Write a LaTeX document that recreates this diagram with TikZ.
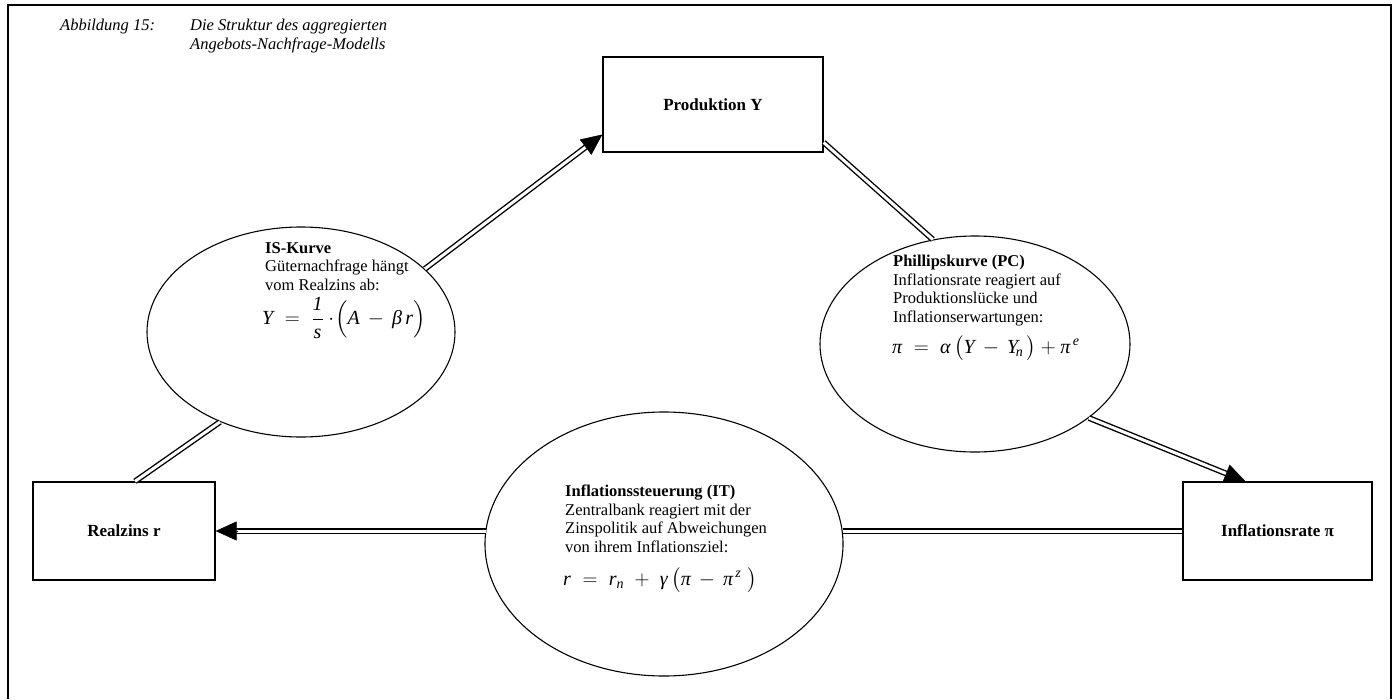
\documentclass[tikz,border=0pt]{standalone}
\usepackage{fontspec}
\setmainfont{Liberation Serif}
\usepackage{amsmath}
\usetikzlibrary{arrows.meta,shapes.geometric,calc}
\newcommand\mi[1]{\text{\itshape #1}}
\begin{document}
\begin{tikzpicture}[x=1pt,y=-1pt,
  font=\fontsize{16.5}{18.5}\selectfont,
  box/.style={draw, line width=1.3pt, inner sep=0pt, font=\fontsize{17}{19}\selectfont\bfseries},
  ell/.style={draw, ellipse, line width=1.1pt, inner sep=0pt},
  dbl/.style={double, double distance=3pt, line width=1.4pt},
  tipst/.style={-{Triangle[length=21pt,width=19pt]}, line width=0.5pt},
  txt/.style={anchor=north west, align=left, inner sep=0pt, font=\fontsize{16.5}{18.5}\selectfont},
  frm/.style={anchor=west, inner sep=0pt, font=\fontsize{20}{23}\selectfont},
  ttl/.style={inner sep=0pt, align=left, font=\itshape\fontsize{16.5}{19}\selectfont}]
\useasboundingbox (0,0) rectangle (1395,699);
% frame
\draw[line width=2.4pt] (8,699) -- (8,5) -- (1391,5) -- (1391,699);
% title
\node[ttl, anchor=north west] (t1) at (60,19) {Abbildung 15:};
\node[ttl, anchor=north west] (t2) at (190,19) {Die Struktur des aggregierten\\Angebots-Nachfrage-Modells};
% boxes
\node[box, minimum width=220pt, minimum height=95pt] (prod) at (713,104.5) {Produktion Y};
\node[box, minimum width=182pt, minimum height=98pt] (rz) at (124,531) {Realzins r};
\node[box, minimum width=189pt, minimum height=98pt] (ir) at (1277.5,531) {Inflationsrate π};
% ellipses
\node[ell, minimum width=308pt, minimum height=210pt] (is) at (301,332) {};
\node[ell, minimum width=310pt, minimum height=216pt] (pc) at (975,344) {};
\node[ell, minimum width=358pt, minimum height=264pt] (it) at (664,544) {};
% ellipse texts
\node[txt] (istxt) at (265,242) {\textbf{IS-Kurve}\\Güternachfrage hängt\\vom Realzins ab:};
\node[frm] (isf) at (262,318) {$\mi{Y} \;=\; \dfrac{\mi{1}}{\mi{s}}\cdot\!\Bigl(\mi{A} \,-\, \mi{β}\,\mi{r}\Bigr)$};
\node[txt] (pctxt) at (893,255) {\textbf{Phillipskurve (PC)}\\Inflationsrate reagiert auf\\Produktionslücke und\\Inflationserwartungen:};
\node[frm] (pcf) at (892,348) {$\mi{π} \;=\; \mi{α}\,\bigl(\mi{Y} \,-\, \mi{Y}_{\!\mi{n}}\,\bigr) + \mi{π}^{\,\mi{e}}$};
\node[txt] (ittxt) at (565,485) {\textbf{Inflationssteuerung (IT)}\\Zentralbank reagiert mit der\\Zinspolitik auf Abweichungen\\von ihrem Inflationsziel:};
\node[frm] (itf) at (563,580) {$\mi{r} \;=\; \mi{r}_{\mi{n}} \;+\; \mi{γ}\,\bigl(\mi{π} \,-\, \mi{π}^{\,\mi{z}}\;\bigr)$};
% connectors
\coordinate (e1) at ($(prod.west)+(0,30)$);
\draw[dbl, shorten >=19pt] (is.27) -- (e1);
\draw[tipst] ($(e1)!21pt!(is.27)$) -- (e1);
\draw[dbl] ($(prod.east)+(0,38)$) -- (pc.112);
\coordinate (e3) at ($(ir.north)+(-32,0)$);
\draw[dbl, shorten >=19pt] (pc.-33) -- (e3);
\draw[tipst] ($(e3)!21pt!(pc.-33)$) -- (e3);
\draw[dbl] (ir.west) -- (ir.west -| it.4.2);
\draw[dbl, shorten >=19pt] (rz.east -| it.175.8) -- (rz.east);
\draw[tipst] ($(rz.east)+(21,0)$) -- (rz.east);
\draw[dbl] ($(rz.north)+(11,0)$) -- (is.228);
\end{tikzpicture}
\end{document}
